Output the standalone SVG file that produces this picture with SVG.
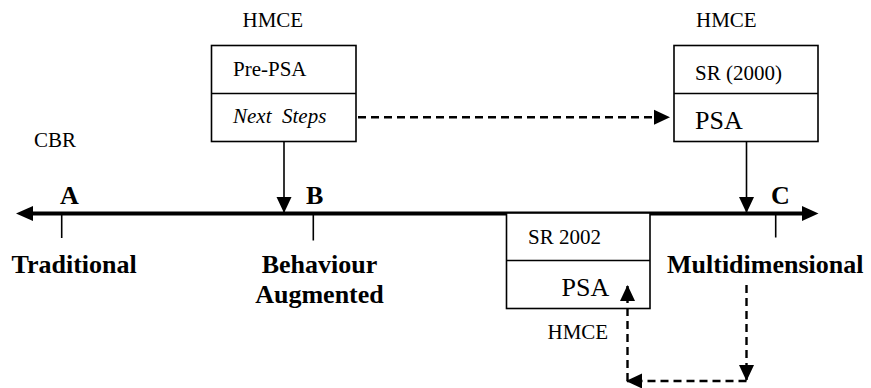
<svg xmlns="http://www.w3.org/2000/svg" width="871" height="388" viewBox="0 0 871 388">
<style>
text{font-family:"Liberation Serif","Times New Roman",serif;fill:#000}
.s{font-size:21px}
.m{font-size:26px}
.b{font-size:26px;font-weight:bold}
.box{fill:#fff;stroke:#000;stroke-width:1.6}
.div{stroke:#000;stroke-width:1.6}
.solid{stroke:#000;stroke-width:1.6;fill:none}
.dash{stroke:#000;stroke-width:2.4;stroke-dasharray:8 5;fill:none}
.tick{stroke:#000;stroke-width:1.6}
</style>
<defs>
<marker id="ah" markerUnits="userSpaceOnUse" markerWidth="16" markerHeight="16" viewBox="0 0 16 16" refX="15" refY="8" orient="auto">
<path d="M0,0.5 L16,8 L0,15.5 z" fill="#000"/>
</marker>
</defs>

<g id="axis">
<line x1="30" y1="213.5" x2="804" y2="213.5" stroke="#000" stroke-width="4"/>
<polygon points="16,213.5 33,206 33,221" fill="#000"/>
<polygon points="818.5,213.5 802,206 802,221" fill="#000"/>
<line class="tick" x1="61.7" y1="213" x2="61.7" y2="238"/>
<line class="tick" x1="313.3" y1="213" x2="313.3" y2="240.5"/>
<line class="tick" x1="775.7" y1="213" x2="775.7" y2="237.5"/>
<text class="b" x="60" y="204">A</text>
<text class="b" x="306" y="204">B</text>
<text class="b" x="771" y="204">C</text>
<text class="b" x="11.5" y="272.5">Traditional</text>
<text class="b" x="319.5" y="272.5" text-anchor="middle">Behaviour</text>
<text class="b" x="319.5" y="302.5" text-anchor="middle">Augmented</text>
<text class="b" x="667" y="272.5">Multidimensional</text>
</g>

<g id="cbr">
<text class="s" x="34" y="146.5">CBR</text>
</g>

<g id="node-prepsa">
<text class="s" x="242.5" y="26.5">HMCE</text>
<rect class="box" x="211.5" y="45.5" width="144.5" height="96"/>
<line class="div" x1="211.5" y1="93.5" x2="356" y2="93.5"/>
<text class="s" x="233" y="76">Pre-PSA</text>
<text class="s" x="233" y="123" font-style="italic" xml:space="preserve">Next  Steps</text>
</g>

<g id="node-sr2000">
<text class="s" x="696" y="26.5">HMCE</text>
<rect class="box" x="674" y="45.5" width="144" height="96"/>
<line class="div" x1="674" y1="93.5" x2="818" y2="93.5"/>
<text class="s" x="695" y="80">SR (2000)</text>
<text class="m" x="695" y="128.5">PSA</text>
</g>

<g id="node-sr2002">
<rect class="box" x="506.5" y="213" width="143.5" height="95.5"/>
<line class="div" x1="506.5" y1="260.5" x2="650" y2="260.5"/>
<text class="s" x="528" y="243.5">SR 2002</text>
<text class="m" x="561.5" y="296">PSA</text>
<text class="s" x="547.5" y="338.5">HMCE</text>
</g>

<g id="connectors">
<line class="solid" x1="284" y1="141.3" x2="284" y2="212" marker-end="url(#ah)"/>
<line class="solid" x1="746.5" y1="141.3" x2="746.5" y2="212" marker-end="url(#ah)"/>
<line class="dash" x1="358" y1="117.3" x2="669" y2="117.3" marker-end="url(#ah)"/>
<line class="dash" x1="746.5" y1="285" x2="746.5" y2="380" marker-end="url(#ah)"/>
<line class="dash" x1="746.5" y1="381" x2="627" y2="381" marker-end="url(#ah)"/>
<line class="dash" x1="627.5" y1="381" x2="627.5" y2="286" marker-end="url(#ah)"/>
</g>
</svg>
